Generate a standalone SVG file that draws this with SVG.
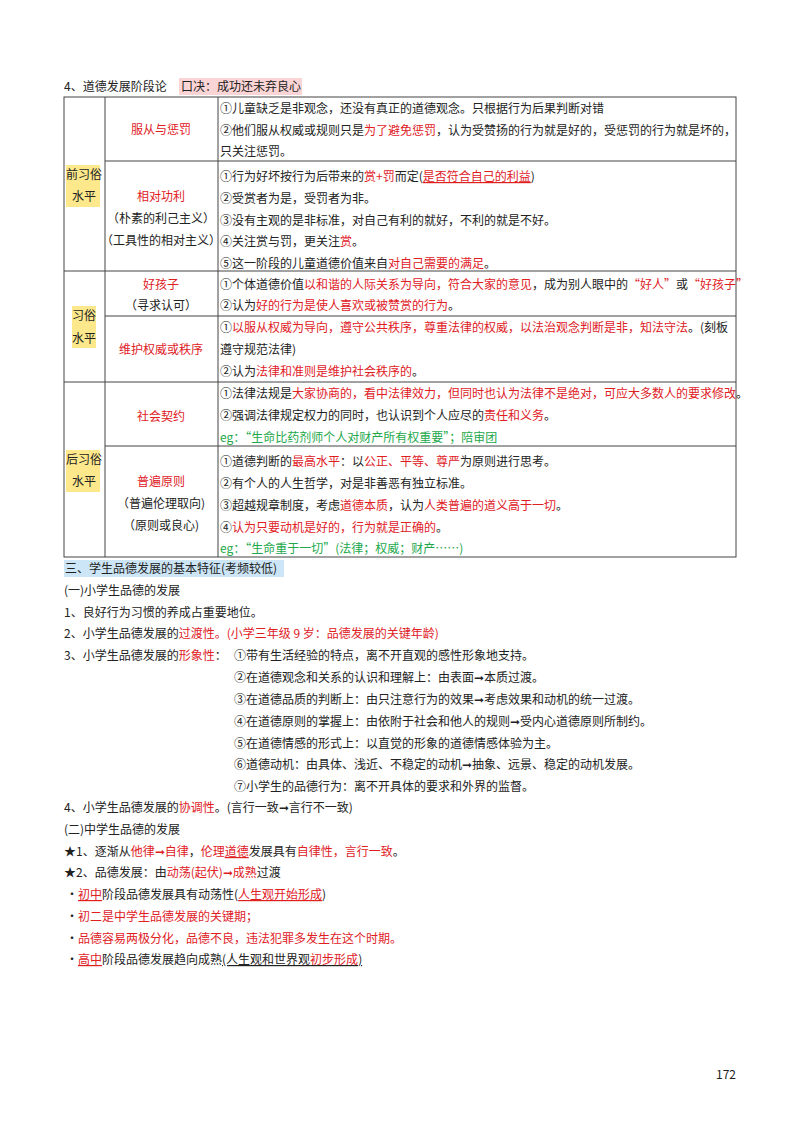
<svg xmlns="http://www.w3.org/2000/svg" width="800" height="1130" viewBox="0 0 800 1130">
<style>
text{font-family:"Noto Sans CJK SC","Liberation Sans",sans-serif;font-size:12px;fill:#222}
.r{fill:#e0201f}.g{fill:#22a84a}.c{text-anchor:middle}
.u{text-decoration:underline}
line{stroke:#444;stroke-width:1}
</style>
<rect width="800" height="1130" fill="#fff"/>
<g id="heading">
<rect x="179" y="78" width="123" height="17" fill="#fbd5d5"/>
<text x="64" y="91">4、道德发展阶段论</text>
<text x="181" y="91">口决：成功还未弃良心</text>
</g>
<g id="table-lines">
<rect x="64" y="97" width="672" height="460" fill="none" stroke="#444"/>
<line x1="105" y1="97" x2="105" y2="557"/>
<line x1="218" y1="97" x2="218" y2="557"/>
<line x1="105" y1="161" x2="736" y2="161"/>
<line x1="64" y1="271" x2="736" y2="271"/>
<line x1="105" y1="316" x2="736" y2="316"/>
<line x1="64" y1="382" x2="736" y2="382"/>
<line x1="105" y1="446" x2="736" y2="446"/>
</g>
<g id="levels">
<rect x="66" y="165" width="34" height="42" fill="#fde98c"/>
<text class="c" x="84" y="179">前习俗</text><text class="c" x="84" y="201">水平</text>
<rect x="72" y="306" width="24" height="42" fill="#fde98c"/>
<text class="c" x="84" y="320">习俗</text><text class="c" x="84" y="343">水平</text>
<rect x="66" y="450" width="34" height="42" fill="#fde98c"/>
<text class="c" x="84" y="464">后习俗</text><text class="c" x="84" y="486">水平</text>
</g>
<g id="stage1">
<text class="c r" x="161" y="134">服从与惩罚</text>
<text x="220" y="113">①儿童缺乏是非观念，还没有真正的道德观念。只根据行为后果判断对错</text>
<text x="220" y="135">②他们服从权威或规则只是<tspan class="r">为了避免惩罚</tspan>，认为受赞扬的行为就是好的，受惩罚的行为就是坏的，</text>
<text x="220" y="156">只关注惩罚。</text>
</g>
<g id="stage2">
<text class="c r" x="161" y="201">相对功利</text>
<text class="c" x="161" y="223">（朴素的利己主义）</text>
<text class="c" x="161" y="245">（工具性的相对主义）</text>
<text x="220" y="181">①行为好坏按行为后带来的<tspan class="r">赏+罚</tspan>而定(<tspan class="r u">是否符合自己的利益</tspan>)</text>
<text x="220" y="203">②受赏者为是，受罚者为非。</text>
<text x="220" y="225">③没有主观的是非标准，对自己有利的就好，不利的就是不好。</text>
<text x="220" y="246">④关注赏与罚，更关注<tspan class="r">赏</tspan>。</text>
<text x="220" y="268">⑤这一阶段的儿童道德价值来自<tspan class="r">对自己需要的满足</tspan>。</text>
</g>
<g id="stage3">
<text class="c r" x="161" y="289">好孩子</text>
<text class="c" x="161" y="310">（寻求认可）</text>
<text x="220" y="289">①个体道德价值<tspan class="r">以和谐的人际关系为导向，符合大家的意见</tspan>，成为别人眼中的<tspan class="r">“好人”</tspan>或<tspan class="r">“好孩子”</tspan></text>
<text x="220" y="310">②认为<tspan class="r">好的行为是使人喜欢或被赞赏的行为</tspan>。</text>
</g>
<g id="stage4">
<text class="c r" x="161" y="354">维护权威或秩序</text>
<text x="220" y="332"><tspan>①</tspan><tspan class="r">以服从权威为导向，遵守公共秩序，尊重法律的权威，以法治观念判断是非，知法守法</tspan>。(刻板</text>
<text x="220" y="354">遵守规范法律)</text>
<text x="220" y="376">②认为<tspan class="r">法律和准则是维护社会秩序的</tspan>。</text>
</g>
<g id="stage5">
<text class="c r" x="161" y="421">社会契约</text>
<text x="220" y="398">①法律法规是<tspan class="r">大家协商的，看中法律效力，但同时也认为法律不是绝对，可应大多数人的要求修改</tspan>。</text>
<text x="220" y="420">②强调法律规定权力的同时，也认识到个人应尽的<tspan class="r">责任和义务</tspan>。</text>
<text class="g" x="220" y="442">eg：“生命比药剂师个人对财产所有权重要”；陪审团</text>
</g>
<g id="stage6">
<text class="c r" x="161" y="486">普遍原则</text>
<text class="c" x="161" y="508">（普遍伦理取向)</text>
<text class="c" x="161" y="530">（原则或良心)</text>
<text x="220" y="466">①道德判断的<tspan class="r">最高水平</tspan>：以<tspan class="r">公正、平等、尊严</tspan>为原则进行思考。</text>
<text x="220" y="488">②有个人的人生哲学，对是非善恶有独立标准。</text>
<text x="220" y="510">③超越规章制度，考虑<tspan class="r">道德本质</tspan>，认为<tspan class="r">人类普遍的道义高于一切</tspan>。</text>
<text x="220" y="532">④<tspan class="r">认为只要动机是好的，行为就是正确的</tspan>。</text>
<text class="g" x="220" y="553">eg：“生命重于一切”(法律；权威；财产……)</text>
</g>
<g id="section3">
<rect x="64" y="560" width="220" height="17" fill="#cde6f7"/>
<text x="65" y="573">三、学生品德发展的基本特征(考频较低)</text>
<text x="64" y="595">(一)小学生品德的发展</text>
<text x="64" y="617">1、良好行为习惯的养成占重要地位。</text>
<text x="64" y="638">2、小学生品德发展的<tspan class="r">过渡性。(小学三年级 9 岁：品德发展的关键年龄)</tspan></text>
<text x="64" y="660">3、小学生品德发展的<tspan class="r">形象性</tspan>：</text>
<text x="234" y="660">①带有生活经验的特点，离不开直观的感性形象地支持。</text>
<text x="234" y="682">②在道德观念和关系的认识和理解上：由表面➞本质过渡。</text>
<text x="234" y="704">③在道德品质的判断上：由只注意行为的效果➞考虑效果和动机的统一过渡。</text>
<text x="234" y="726">④在道德原则的掌握上：由依附于社会和他人的规则➞受内心道德原则所制约。</text>
<text x="234" y="748">⑤在道德情感的形式上：以直觉的形象的道德情感体验为主。</text>
<text x="234" y="769">⑥道德动机：由具体、浅近、不稳定的动机➞抽象、远景、稳定的动机发展。</text>
<text x="234" y="791">⑦小学生的品德行为：离不开具体的要求和外界的监督。</text>
<text x="64" y="812">4、小学生品德发展的<tspan class="r">协调性</tspan>。(言行一致➞言行不一致)</text>
<text x="64" y="834">(二)中学生品德的发展</text>
<text x="64" y="856">★1、逐渐从<tspan class="r">他律➞自律</tspan>，<tspan class="r">伦理<tspan class="u">道德</tspan></tspan>发展具有<tspan class="r">自律性，言行一致</tspan>。</text>
<text x="64" y="877">★2、品德发展：由<tspan class="r">动荡(起伏)➞成熟</tspan>过渡</text>
<text x="66" y="899">·<tspan class="r u">初中</tspan>阶段品德发展具有动荡性(<tspan class="r u">人生观开始形成</tspan>)</text>
<text x="66" y="921">·<tspan class="r">初二是中学生品德发展的关键期；</tspan></text>
<text x="66" y="943">·<tspan class="r">品德容易两极分化，品德不良，违法犯罪多发生在这个时期。</tspan></text>
<text x="66" y="964">·<tspan class="r u">高中</tspan>阶段品德发展趋向成熟<tspan class="u">(人生观和世界观<tspan class="r">初步形成</tspan>)</tspan></text>
</g>
<text x="716" y="1079">172</text>
</svg>
